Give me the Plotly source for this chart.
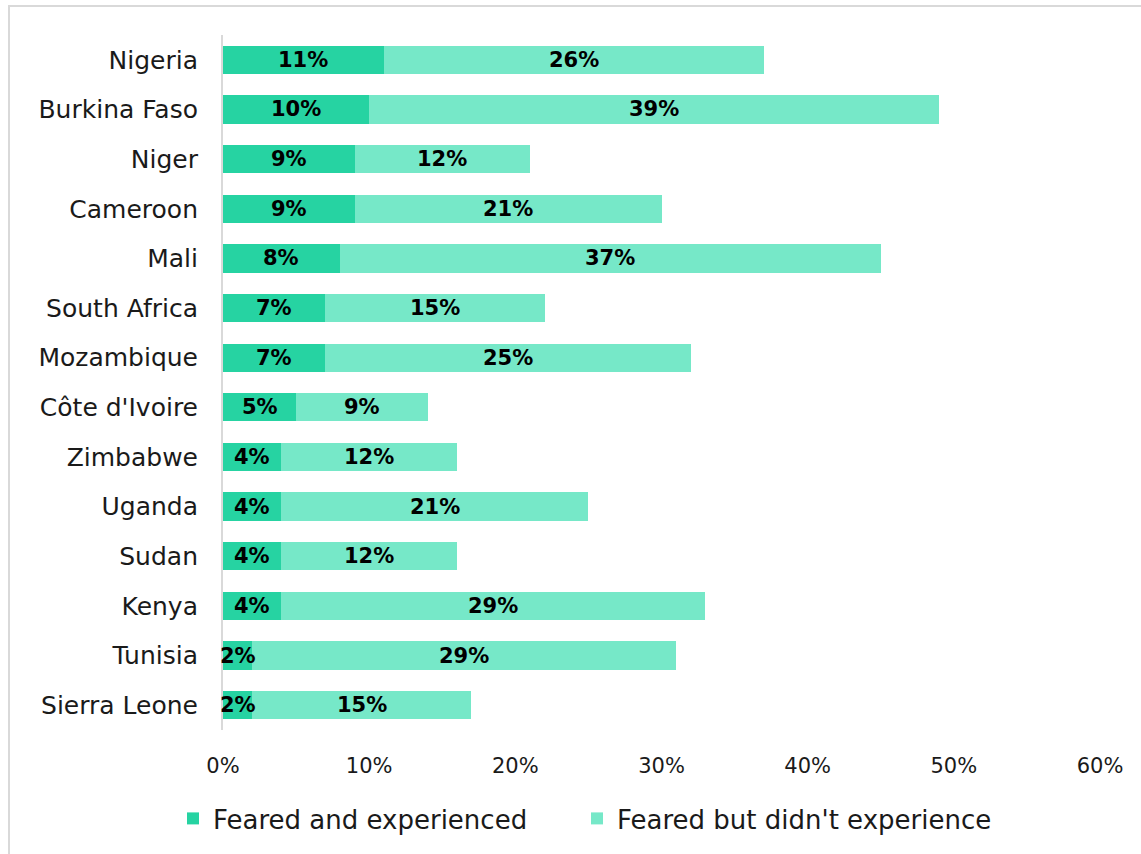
import plotly.graph_objects as go

countries = ["Nigeria", "Burkina Faso", "Niger", "Cameroon", "Mali", "South Africa",
             "Mozambique", "Côte d'Ivoire", "Zimbabwe", "Uganda", "Sudan", "Kenya",
             "Tunisia", "Sierra Leone"]
feared_experienced = [11, 10, 9, 9, 8, 7, 7, 5, 4, 4, 4, 4, 2, 2]
feared_not_experienced = [26, 39, 12, 21, 37, 15, 25, 9, 12, 21, 12, 29, 29, 15]
x_ticks = [0, 10, 20, 30, 40, 50, 60]

FONT = "Century Gothic, DejaVu Sans, sans-serif"
W, H = 1141, 854
L, R, T, B = 223, 41, 35, 124
pw, ph = W - L - R, H - T - B

def px_x(p):
    return (p - L) / pw

def px_y(p):
    return (H - B - p) / ph

label_font = dict(family=FONT, size=21, color="#000000", weight="bold")

fig = go.Figure()
fig.add_trace(go.Bar(
    y=countries, x=feared_experienced, orientation="h",
    name="Feared and experienced",
    marker=dict(color="#26D3A2", line=dict(width=0)),
    width=0.57, legend="legend", showlegend=True,
))
fig.add_trace(go.Bar(
    y=countries, x=feared_not_experienced, orientation="h",
    name="Feared but didn't experience",
    marker=dict(color="#76E8C8", line=dict(width=0)),
    width=0.57, legend="legend2", showlegend=True,
))

# value labels centred on each stacked segment
annotations = []
for c, a, b in zip(countries, feared_experienced, feared_not_experienced):
    annotations.append(dict(x=a / 2, y=c, xref="x", yref="y", text=f"{a}%",
                            showarrow=False, font=label_font))
    annotations.append(dict(x=a + b / 2, y=c, xref="x", yref="y", text=f"{b}%",
                            showarrow=False, font=label_font))

legend_common = dict(
    orientation="h", xanchor="left", y=px_y(795), yanchor="top",
    font=dict(size=26, color="#1a1a1a"), bgcolor="rgba(0,0,0,0)",
)

fig.update_layout(
    width=W, height=H,
    barmode="stack",
    showlegend=True,
    margin=dict(l=L, r=R, t=T, b=B, autoexpand=False),
    paper_bgcolor="white", plot_bgcolor="white",
    font=dict(family=FONT, color="#1a1a1a"),
    xaxis=dict(
        range=[0, 60], tickvals=x_ticks, ticktext=[f"{v}%" for v in x_ticks],
        showgrid=False, zeroline=False, showline=False,
        tickfont=dict(size=21, color="#1a1a1a"), ticks="", ticklen=0,
        ticklabelstandoff=21,
    ),
    yaxis=dict(
        categoryorder="array", categoryarray=countries, autorange="reversed",
        showgrid=False, zeroline=False, showline=True, linecolor="#D9D9D9",
        linewidth=2, ticks="", ticklen=0, ticklabelstandoff=18,
        tickfont=dict(size=25, color="#1a1a1a"),
    ),
    legend=dict(x=px_x(173), **legend_common),
    legend2=dict(x=px_x(577), **legend_common),
    annotations=annotations,
    shapes=[dict(
        type="rect", xref="paper", yref="paper",
        x0=px_x(9), x1=px_x(W + 10), y0=px_y(H + 10), y1=px_y(6),
        line=dict(color="#D9D9D9", width=2), fillcolor="rgba(0,0,0,0)",
        layer="below",
    )],
)

fig.write_html("out.html")
